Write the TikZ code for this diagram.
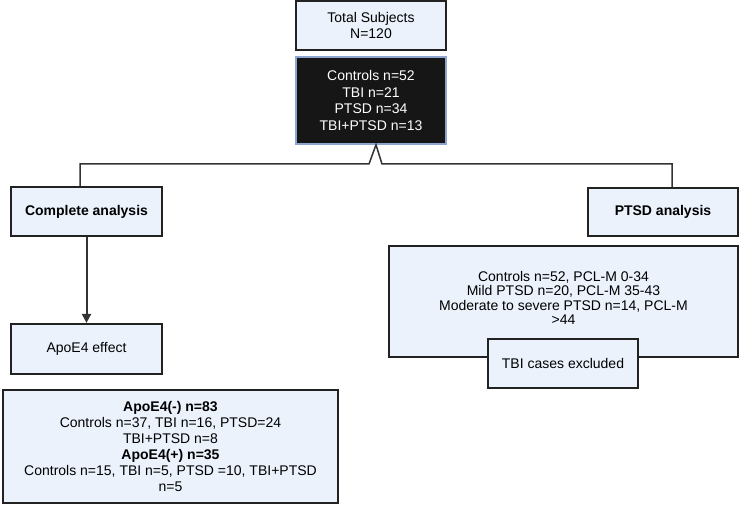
\documentclass[tikz,border=0pt]{standalone}
\usepackage{fontspec}
\setmainfont{Liberation Sans}
\usetikzlibrary{arrows.meta,calc}
\definecolor{boxfill}{HTML}{EBF2FC}
\definecolor{boxline}{HTML}{222222}
\definecolor{darkfill}{HTML}{161616}
\definecolor{darkline}{HTML}{8EA6CF}
\definecolor{conn}{HTML}{333333}
\begin{document}
\begin{tikzpicture}[x=1pt,y=-1pt,
  box/.style={draw=boxline,fill=boxfill,line width=2.2pt,align=center,inner sep=0pt,
    font=\fontsize{14}{16}\selectfont},
  darkbox/.style={draw=darkline,fill=darkfill,line width=1.6pt,align=center,inner sep=0pt,
    text=white,font=\fontsize{14}{16.5}\selectfont},
  conline/.style={draw=conn,line width=1.5pt},
  arrowline/.style={draw=conn,line width=2pt,-{Triangle[width=9pt,length=9pt]}}]
\useasboundingbox (0,0) rectangle (740,505);
\fill[white] (0,0) rectangle (740,505);

\node[box,line width=2.8pt,minimum width=150pt,minimum height=49pt] (total) at (371,25.5)
  {Total Subjects\\N=120};
\node[darkbox,minimum width=150pt,minimum height=87pt] (groups) at (371,100.5)
  {Controls n=52\\TBI n=21\\PTSD n=34\\TBI+PTSD n=13};

\node[box,minimum width=151pt,minimum height=49pt,font=\fontsize{14}{16}\selectfont\bfseries] (complete) at (86.5,211.5)
  {Complete analysis};
\node[box,minimum width=150pt,minimum height=48pt,font=\fontsize{14}{16}\selectfont\bfseries] (ptsdan) at (663,212)
  {PTSD analysis};

\node[box,minimum width=349pt,minimum height=111pt] (ptsdbox) at (563.5,301.5) {};
\node[align=center,font=\fontsize{14}{14.5}\selectfont,inner sep=0pt] (ptsdtext) at (563.5,298)
  {Controls n=52, PCL-M 0-34\\Mild PTSD n=20, PCL-M 35-43\\Moderate to severe PTSD n=14, PCL-M\\>44};
\node[box,minimum width=150pt,minimum height=49pt] (tbiex) at (563,363.5)
  {TBI cases excluded};

\node[box,minimum width=151pt,minimum height=50pt] (apoe) at (86.5,349)
  {ApoE4 effect};
\node[box,minimum width=335pt,minimum height=113pt] (apoedet) at (170.5,446.5)
  {\textbf{ApoE4(-) n=83}\\Controls n=37, TBI n=16, PTSD=24\\TBI+PTSD n=8\\\textbf{ApoE4(+) n=35}\\Controls n=15, TBI n=5, PTSD =10, TBI+PTSD\\n=5};

\coordinate (apex) at ([xshift=5pt]groups.south);
\coordinate (lfoot) at (369,164);
\coordinate (rfoot) at (382,164);
\draw[conline,line join=miter] ([xshift=-6.5pt]complete.north) |- (lfoot) -- (apex) -- (rfoot) -| ([xshift=9pt]ptsdan.north);
\draw[arrowline] (complete.south) -- (apoe.north);
\end{tikzpicture}
\end{document}
